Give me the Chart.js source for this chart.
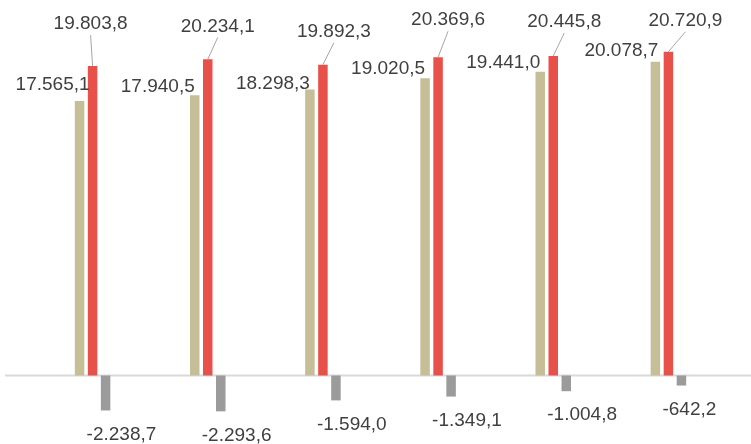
<!DOCTYPE html>
<html>
<head>
<meta charset="utf-8">
<script src="https://cdn.jsdelivr.net/npm/chart.js@4/dist/chart.umd.min.js"></script>
<style>
  html, body { margin: 0; padding: 0; background: #fff; }
  #wrap { width: 751px; height: 444px; position: relative; }
</style>
</head>
<body>
<div id="wrap"><canvas id="chart"></canvas></div>
<script>
const categories = ["1", "2", "3", "4", "5", "6"];
const seriesA = [17565.1, 17940.5, 18298.3, 19020.5, 19441.0, 20078.7];
const seriesB = [19803.8, 20234.1, 19892.3, 20369.6, 20445.8, 20720.9];
const seriesDiff = [-2238.7, -2293.6, -1594.0, -1349.1, -1004.8, -642.2];

// label nudges (px), the labels were moved by hand in the original
const beigeShift = [[10, -16], [0, -8], [0, -6], [0, -10], [0, -9], [3, -11]];
const redShift = [[-2, -42], [10, -33], [11, -33], [10, -37], [11, -34], [17, -31]];

const fmt = v => {
  const neg = v < 0;
  const [i, d] = Math.abs(v).toFixed(1).split(".");
  const grouped = i.replace(/\B(?=(\d{3})+(?!\d))/g, ".");
  return (neg ? "-" : "") + grouped + "," + d;
};

const FONT = "19px 'Liberation Sans', Arial, sans-serif";
const TEXT = "#404040";

const labelPlugin = {
  id: "labels",
  beforeDatasetsDraw(chart) {
    const { ctx } = chart;
    const y0 = chart.scales.y.getPixelForValue(0);
    ctx.save();
    ctx.strokeStyle = "#d9d9d9";
    ctx.lineWidth = 2;
    ctx.beginPath();
    ctx.moveTo(5, y0);
    ctx.lineTo(chart.width, y0);
    ctx.stroke();
    ctx.restore();
  },
  afterDatasetsDraw(chart) {
    const { ctx } = chart;
    ctx.save();
    ctx.font = FONT;
    ctx.fillStyle = TEXT;
    ctx.textBaseline = "middle";

    chart.getDatasetMeta(0).data.forEach((bar, i) => {
      ctx.textAlign = "right";
      ctx.fillText(fmt(seriesA[i]), bar.x + beigeShift[i][0], bar.y + beigeShift[i][1]);
    });

    chart.getDatasetMeta(1).data.forEach((bar, i) => {
      const lx = bar.x + redShift[i][0];
      const ly = bar.y + redShift[i][1];
      ctx.strokeStyle = "#a6a6a6";
      ctx.lineWidth = 1;
      ctx.beginPath();
      ctx.moveTo(lx, ly + 11);
      ctx.lineTo(bar.x, bar.y);
      ctx.stroke();
      ctx.textAlign = "center";
      ctx.fillText(fmt(seriesB[i]), lx, ly);
    });

    chart.getDatasetMeta(2).data.forEach((bar, i) => {
      ctx.textAlign = "left";
      ctx.fillText(fmt(seriesDiff[i]), bar.x - 19, bar.y + 24);
    });
    ctx.restore();
  }
};

new Chart(document.getElementById("chart"), {
  type: "bar",
  data: {
    labels: categories,
    datasets: [
      { label: "A", data: seriesA, backgroundColor: "#c5be97" },
      { label: "B", data: seriesB, backgroundColor: "#e8504a" },
      { label: "Diferencia", data: seriesDiff, backgroundColor: "#9b9b9b" }
    ]
  },
  options: {
    responsive: true,
    maintainAspectRatio: false,
    animation: false,
    layout: { padding: { left: 35, right: 25, top: 0, bottom: 0 } },
    categoryPercentage: 0.339,
    barPercentage: 0.73,
    plugins: { legend: { display: false }, tooltip: { enabled: false } },
    scales: {
      x: { display: false },
      y: { display: false, min: -4384, max: 24032 }
    }
  },
  plugins: [labelPlugin]
});
</script>
</body>
</html>
